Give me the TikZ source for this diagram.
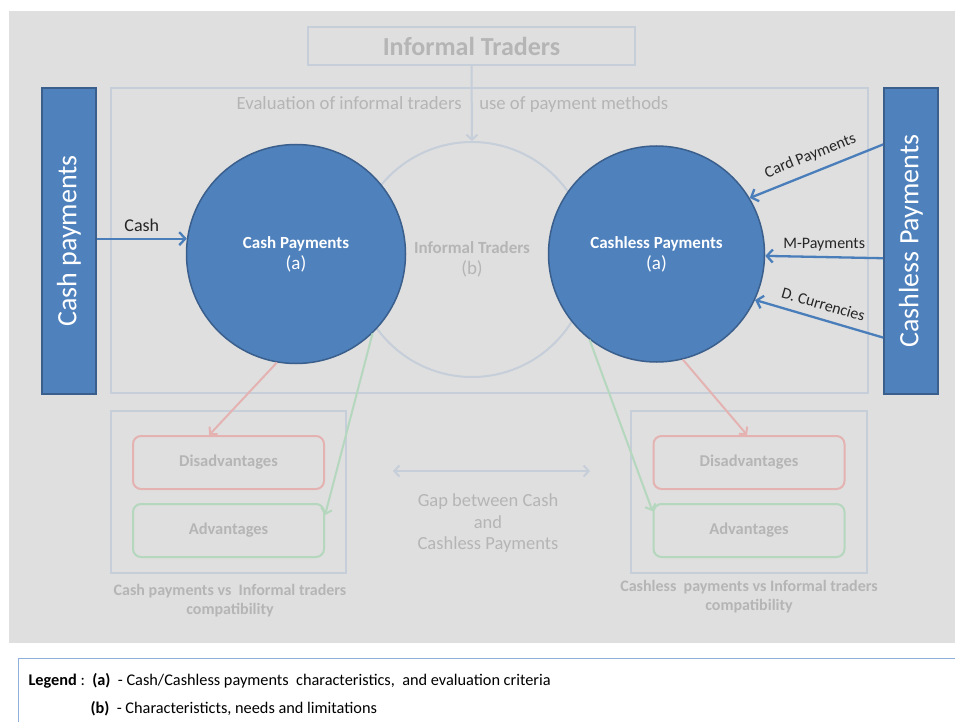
\documentclass[tikz,border=0pt]{standalone}
\usepackage{fontspec}
\usepackage{graphicx}
\setmainfont{Carlito}
\usetikzlibrary{arrows.meta,calc}

\definecolor{canvas}{HTML}{DFDFDF}
\definecolor{pale}{HTML}{C6CED9}
\definecolor{fadetext}{HTML}{B5B5B5}
\definecolor{blueFill}{HTML}{4F81BD}
\definecolor{blueEdge}{HTML}{3A5F8C}
\definecolor{blueLine}{HTML}{4A7EBB}
\definecolor{redEdge}{HTML}{E5B2B2}
\definecolor{greenEdge}{HTML}{B4D7BE}
\definecolor{legendLine}{HTML}{8EB0DA}

\newcommand{\fsz}[1]{\fontsize{#1}{#1}\selectfont}

\tikzset{
  palebox/.style={draw=pale, line width=2pt, inner sep=0pt},
  fade/.style={text=fadetext},
  paybar/.style={fill=blueFill, draw=blueEdge, line width=1.6pt, inner sep=0pt,
                 minimum width=54pt, minimum height=306pt, text=white},
  paycircle/.style={circle, fill=blueFill, draw=blueEdge, line width=1.5pt,
                    inner sep=0pt, text=white, align=center},
  bluearrow/.style={draw=blueLine, line width=2.3pt,
                    -{Straight Barb[length=6pt,width=13pt,line width=2.3pt]}},
  palearrow/.style={draw=pale, line width=2pt,
                    -{Straight Barb[length=5pt,width=11pt,line width=2pt]}},
  redarrow/.style={draw=redEdge, line width=2pt,
                   -{Straight Barb[length=5pt,width=11pt,line width=2pt]}},
  greenarrow/.style={draw=greenEdge, line width=2pt,
                     -{Straight Barb[length=5pt,width=11pt,line width=2pt]}},
  redbox/.style={draw=redEdge, line width=2pt, rounded corners=8pt, inner sep=0pt,
                 minimum width=191pt, minimum height=53pt, fade, font=\bfseries\fsz{16.5}},
  greenbox/.style={draw=greenEdge, line width=2pt, rounded corners=8pt, inner sep=0pt,
                   minimum width=191pt, minimum height=53pt, fade, font=\bfseries\fsz{16.5}},
  arrowlabel/.style={text=black!85, font=\fsz{16}},
  caption/.style={fade, font=\bfseries\fsz{16}, align=center}
}

\begin{document}
\begin{tikzpicture}[x=1pt,y=-1pt]
\useasboundingbox (0,0) rectangle (955,722);
\fill[white] (0,0) rectangle (955,722);
\fill[canvas] (9,11) rectangle (955,643);

% legend frame
\draw[legendLine, line width=0.8pt] (955,658) -- (18,658) -- (18,722);

% title box and evaluation frame
\node[palebox, minimum width=327pt, minimum height=38pt, fade, font=\bfseries\fsz{26}]
  (top) at (471.5,46) {Informal Traders};
\node[palebox, minimum width=757pt, minimum height=305pt] (eval) at (489.5,240.5) {};
\node[fade, font=\fsz{18.7}] (evaltxt) at (452.5,105)
  {Evaluation of informal traders\hspace{0.95em}use of payment methods};

% side bars
\node[paybar] (cashbar) at (69,241) {\rotatebox{90}{\fsz{28}Cash payments}};
\node[paybar] (cslbar) at (911,241) {\rotatebox{90}{\fsz{28}Cashless Payments}};

% circles
\node[circle, draw=pale, line width=2pt, minimum size=235pt, inner sep=0pt,
      fade, font=\fsz{17}, align=center] (trader) at (472,259.5)
  {{\bfseries Informal Traders}\\[4pt]{\fsz{19}(b)}};
\node[paycircle, minimum size=219pt, font=\fsz{17}] (cash) at (296,254)
  {{\bfseries Cash Payments}\\[4pt]{\fsz{19}(a)}};
\node[paycircle, minimum size=216pt, font=\fsz{17}] (cashless) at (656.5,254)
  {{\bfseries Cashless Payments}\\[4pt]{\fsz{19}(a)}};

% title to traders
\draw[palearrow] (top.south) -- (trader.north);

% incoming payment channels
\draw[bluearrow] (cashbar.east |- cash.172) -- (cash.172)
  node[midway, above=3pt, arrowlabel, font=\fsz{18}] {Cash};
\draw[bluearrow] ($(cslbar.north west)!0.186!(cslbar.south west)$) -- (cashless.31)
  node[midway, sloped, above=5pt, arrowlabel] {Card Payments};
\draw[bluearrow] ($(cslbar.north west)!0.556!(cslbar.south west)$) -- (cashless.-1)
  node[midway, above=2pt, arrowlabel] {M-Payments};
\draw[bluearrow] ($(cslbar.north west)!0.814!(cslbar.south west)$) -- (cashless.-25)
  node[midway, sloped, above=5pt, arrowlabel] {D. Currencies};

% compatibility panels
\node[palebox, minimum width=235pt, minimum height=162pt] (panelL) at (228.5,492) {};
\node[palebox, minimum width=236pt, minimum height=162pt] (panelR) at (749,492) {};
\node[redbox] (disL) at (228.5,462.5) {Disadvantages};
\node[greenbox] (advL) at (228.5,530.5) {Advantages};
\node[redbox] (disR) at (749,462.5) {Disadvantages};
\node[greenbox] (advR) at (749,530.5) {Advantages};
\node[caption] (capL) at (230,601) {Cash payments vs\ \ Informal traders\\[3pt]compatibility};
\node[caption] (capR) at (749,597) {Cashless\ \ payments vs Informal traders\\[3pt]compatibility};

\draw[redarrow] (cash.-100) -- ($(disL.north west)!0.4!(disL.north east)$);
\draw[greenarrow] (cash.-46) -- ($(advL.north east)!0.22!(advL.south east)$);
\draw[redarrow] (cashless.-76) -- ($(disR.north west)!0.49!(disR.north east)$);
\draw[greenarrow] (cashless.-128) -- ($(advR.north west)!0.15!(advR.south west)$);

% gap between the two payment worlds
\coordinate (gapL) at (393,471);
\coordinate (gapR) at (590,471);
\draw[palearrow, {Straight Barb[length=5pt,width=11pt,line width=2pt]}-{Straight Barb[length=5pt,width=11pt,line width=2pt]}]
  (gapL) -- (gapR);
\node[fade, font=\fsz{18.5}, align=center] (gaptxt) at (488,523.5)
  {Gap between Cash\\[3pt]and\\[3pt]Cashless Payments};

% legend
\node[anchor=west, font=\fsz{16.3}] (leg1) at (25,681)
  {\textbf{Legend} :\ \ \textbf{(a)}\ \ - Cash/Cashless\ payments\ \ characteristics,\ \ and evaluation criteria};
\node[anchor=west, font=\fsz{16.3}] (leg2) at (87,709)
  {\textbf{(b)}\ \ - Characteristicts, needs and limitations};
\end{tikzpicture}
\end{document}
